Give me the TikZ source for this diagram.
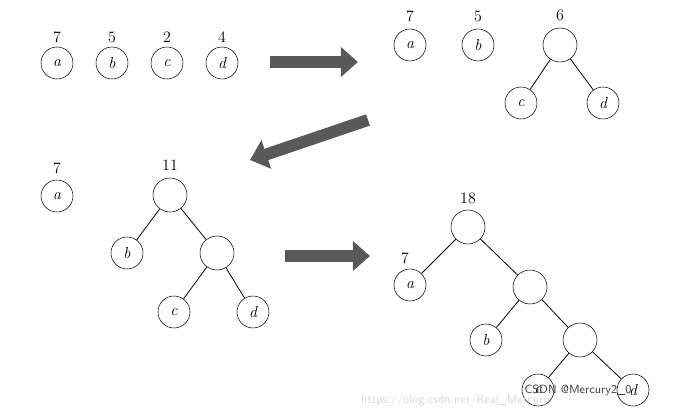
\documentclass[tikz,border=0pt]{standalone}
\usetikzlibrary{arrows.meta}
\begin{document}
\begin{tikzpicture}[x=0.0265cm,y=-0.0265cm,
  nd/.style={draw,circle,minimum size=32*0.0265cm,inner sep=0pt,font=\itshape\large},
  inn/.style={draw,circle,minimum size=34*0.0265cm,inner sep=0pt},
  wt/.style={font=\large},
  bigarrow/.style={line width=9pt,gray!70!black,-{Triangle[width=22pt,length=13pt]}},
  edge/.style={line width=0.6pt}]
\useasboundingbox (0,0) rectangle (676,410);
% panel 1
\node[nd] (a1) at (57,63) {a}; \node[wt] (w1a) at (57,37) {7};
\node[nd] (b1) at (112,63) {b}; \node[wt] (w1b) at (112,37) {5};
\node[nd] (c1) at (167,63) {c}; \node[wt] (w1c) at (167,37) {2};
\node[nd] (d1) at (222,63) {d}; \node[wt] (w1d) at (222,37) {4};
\coordinate (ar1s) at (270,62); \coordinate (ar1e) at (358,62);
\draw[bigarrow] (ar1s) -- (ar1e);
% panel 2
\node[nd] (a2) at (410,45) {a}; \node[wt] (w2a) at (410,16) {7};
\node[nd] (b2) at (478,45) {b}; \node[wt] (w2b) at (478,16) {5};
\node[inn] (r2) at (560,45) {}; \node[wt] (w2r) at (560,15) {6};
\node[nd] (c2) at (521,103) {c};
\node[nd] (d2) at (603,103) {d};
\draw[edge] (r2) -- (c2); \draw[edge] (r2) -- (d2);
\coordinate (ar2s) at (368,120); \coordinate (ar2e) at (250,160);
\draw[bigarrow] (ar2s) -- (ar2e);
% panel 3
\node[nd] (a3) at (57,196) {a}; \node[wt] (w3a) at (57,168) {7};
\node[inn] (r3) at (170,195) {}; \node[wt] (w3r) at (170,165) {11};
\node[nd] (b3) at (127,253) {b};
\node[inn] (i3) at (217,253) {};
\node[nd] (c3) at (174,312) {c};
\node[nd] (d3) at (253,312) {d};
\draw[edge] (r3) -- (b3); \draw[edge] (r3) -- (i3);
\draw[edge] (i3) -- (c3); \draw[edge] (i3) -- (d3);
\coordinate (ar3s) at (285,256); \coordinate (ar3e) at (370,256);
\draw[bigarrow] (ar3s) -- (ar3e);
% panel 4
\node[inn] (r4) at (468,227) {}; \node[wt] (w4r) at (468,198) {18};
\node[nd] (a4) at (410,285) {a}; \node[wt] (w4a) at (405,258) {7};
\node[inn] (i4) at (530,287) {};
\node[nd] (b4) at (486,340) {b};
\node[inn] (j4) at (580,340) {};
\node[nd] (c4) at (538,390) {c};
\node[nd] (d4) at (633,390) {d};
\draw[edge] (r4) -- (a4); \draw[edge] (r4) -- (i4);
\draw[edge] (i4) -- (b4); \draw[edge] (i4) -- (j4);
\draw[edge] (j4) -- (c4); \draw[edge] (j4) -- (d4);
% watermark
\node[font=\sffamily\small,text=black!75] (wm) at (578,390) {CSDN @Mercury2\_0};
\node[font=\sffamily\small,text=black!15] (wm2) at (455,401) {https://blog.csdn.net/Real\_Mercury};
\end{tikzpicture}
\end{document}
